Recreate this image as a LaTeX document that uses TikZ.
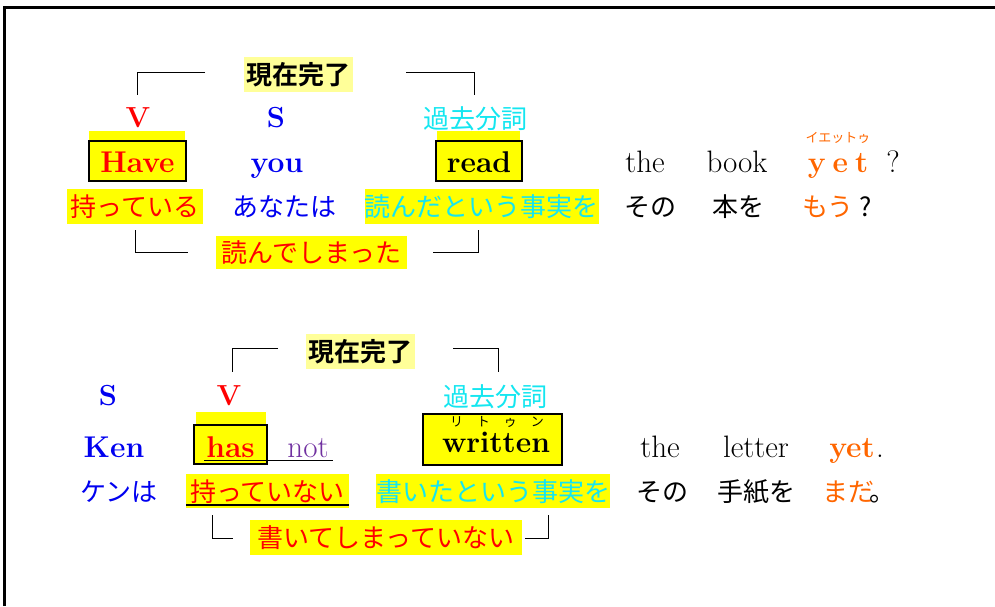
\documentclass[tikz,border=0pt]{standalone}
\usepackage{fontspec}
\newfontfamily\jp{Noto Sans CJK JP}[BoldFont={Noto Sans CJK JP Bold}]
\definecolor{jred}{RGB}{255,0,0}
\definecolor{jblue}{RGB}{0,0,240}
\definecolor{jcyan}{RGB}{20,230,240}
\definecolor{jorange}{RGB}{255,102,0}
\definecolor{jpurple}{RGB}{112,48,160}
\definecolor{jyellow}{RGB}{255,255,0}
\definecolor{lyellow}{RGB}{255,255,153}
\begin{document}
\begin{tikzpicture}[x=1pt,y=-1pt,
  jpt/.style={font=\jp\fontsize{26}{30}\selectfont, inner sep=0, text height=23pt, text depth=3pt},
  jpb/.style={font=\jp\bfseries\fontsize{26}{30}\selectfont, inner sep=0, text height=23pt, text depth=3pt},
  ruby/.style={font=\jp\fontsize{13}{15}\selectfont, inner sep=0, text height=10pt, text depth=1pt},
  enb/.style={font=\fontsize{30}{34}\selectfont\bfseries, inner sep=0, anchor=base},
  enr/.style={font=\fontsize{31}{34}\selectfont, inner sep=0, anchor=base},
  lab/.style={font=\fontsize{29}{32}\selectfont\bfseries, inner sep=0, anchor=base},
  ybox/.style={fill=jyellow, inner sep=0},
  gbox/.style={fill=lyellow, inner sep=0},
  wbox/.style={fill=jyellow, draw=black, line width=1.6pt},
  brk/.style={draw=black, line width=1pt},
  uline/.style={draw=black, line width=1.8pt}
]
\useasboundingbox (0,0) rectangle (995,606);
\draw[line width=3pt] (4.5,606) -- (4.5,7.5) -- (995,7.5);

% ---------- top sentence ----------
\node[jpb, gbox, minimum width=109pt, minimum height=35pt] (gen1) at (298.5,74.5) {現在完了};
\coordinate (g1l) at (205,72); \coordinate (g1r) at (406,72);
\coordinate (v1t) at (137,95); \coordinate (k1t) at (474,95);
\draw[brk] (g1l) -| (v1t);
\draw[brk] (g1r) -| (k1t);

\node[lab, text=jred] (V1) at (138,127) {V};
\node[lab, text=jblue] (S1) at (276,127) {S};
\node[jpt, text=jcyan] (kako1) at (475,118) {過去分詞};

\fill[jyellow] (89,131) rectangle (185,141);
\draw[wbox] (89,141) rectangle (186,181);
\node[enb, text=jred] (have) at (137.5,172) {Have};
\node[enb, text=jblue] (you) at (277,172) {you};
\fill[jyellow] (437,131) rectangle (520,141);
\draw[wbox] (436,141) rectangle (522,181);
\node[enb, text=black] (read) at (479,172) {read};
\node[enr] (the1) at (645,172) {the};
\node[enr] (book) at (737,172) {book};
\node[enb, text=jorange] (yet1) at (838,172) {y\hspace{7pt}e\hspace{7pt}t};
\node[ruby, text=jorange] (yetr) at (838,138) {イエットゥ};
\node[enr] (q1) at (893,172) {?};

\node[jpt, ybox, text=jred, minimum width=136pt, minimum height=35pt] (motte1) at (135,206.5) {持っている};
\node[jpt, text=jblue] (anata) at (284,206) {あなたは};
\node[jpt, ybox, text=jcyan, minimum width=233pt, minimum height=35pt] (yonda) at (481.5,206.5) {読んだという事実を};
\node[jpt] (sono1) at (650,206) {その};
\node[jpt] (hon) at (738,206) {本を};
\node[jpt, text=jorange] (mou) at (828,206) {もう};
\node[jpt] (q2) at (866,206) {?};

\node[jpt, ybox, text=jred, minimum width=191pt, minimum height=33pt] (yonde) at (311.5,252.5) {読んでしまった};
\coordinate (b1a) at (135,230); \coordinate (b1b) at (188,252);
\coordinate (b1c) at (433,252); \coordinate (b1d) at (478,230);
\draw[brk] (b1a) |- (b1b);
\draw[brk] (b1c) -| (b1d);

% ---------- bottom sentence ----------
\node[jpb, gbox, minimum width=109pt, minimum height=35pt] (gen2) at (360.5,351.5) {現在完了};
\coordinate (g2l) at (278,348); \coordinate (g2r) at (453,348);
\coordinate (v2t) at (232,372); \coordinate (k2t) at (498,372);
\draw[brk] (g2l) -| (v2t);
\draw[brk] (g2r) -| (k2t);

\node[lab, text=jblue] (S2) at (108,405) {S};
\node[lab, text=jred] (V2) at (229,405) {V};
\node[jpt, text=jcyan] (kako2) at (495,396) {過去分詞};

\node[enb, text=jblue] (ken) at (114,457) {Ken};
\fill[jyellow] (196,412) rectangle (266,425);
\draw[wbox] (194,425) rectangle (267,464);
\node[enb, text=jred] (has) at (230.5,457) {has};
\node[enr, text=jpurple] (not) at (308,457) {not};
\draw[uline] (204,460.5) -- (333,460.5);
\draw[wbox] (423,414) rectangle (562,465);
\node[ruby] (writr) at (497,422) {リ\hspace{14pt}ト\hspace{14pt}ゥ\hspace{14pt}ン};
\node[enb] (written) at (496,452) {written};
\node[enr] (the2) at (660,457) {the};
\node[enr] (letter) at (756,457) {letter};
\node[enb, text=jorange] (yet2) at (852,457) {yet};
\node[enr] (dot) at (880,457) {.};

\node[jpt, text=jblue] (kenha) at (119,491) {ケンは};
\node[jpt, ybox, text=jred, minimum width=163pt, minimum height=34pt] (motte2) at (267.5,491) {持っていない};
\draw[uline] (186,505) -- (349,505);
\node[jpt, ybox, text=jcyan, minimum width=232pt, minimum height=34pt] (kaita) at (493,491) {書いたという事実を};
\node[jpt] (sono2) at (662,491) {その};
\node[jpt] (tegami) at (756,491) {手紙を};
\node[jpt, text=jorange] (mada) at (848,491) {まだ};
\node[jpt] (maru) at (882,491) {。};

\node[jpt, ybox, text=jred, minimum width=272pt, minimum height=35pt] (kaite) at (386,537.5) {書いてしまっていない};
\coordinate (b2a) at (212,515); \coordinate (b2b) at (233,538);
\coordinate (b2c) at (525,538); \coordinate (b2d) at (548,515);
\draw[brk] (b2a) |- (b2b);
\draw[brk] (b2c) -| (b2d);
\end{tikzpicture}
\end{document}
